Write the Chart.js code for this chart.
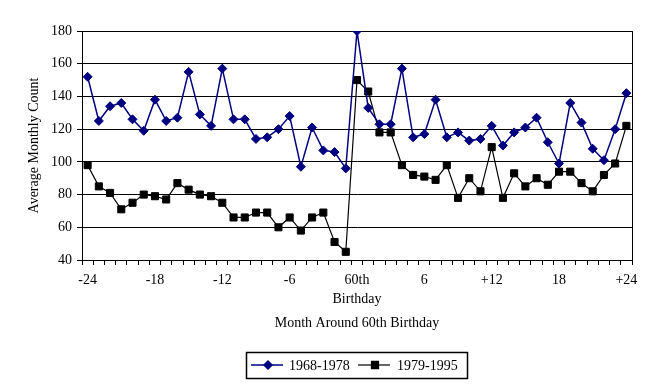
<!DOCTYPE html>
<html>
<head>
<meta charset="utf-8">
<script src="https://cdn.jsdelivr.net/npm/chart.js@4"></script>
<style>
  html, body { margin: 0; padding: 0; background: #fff; }
  #wrap { width: 650px; height: 390px; position: relative; }
</style>
</head>
<body>
<div id="wrap"><canvas id="chart" width="650" height="390"></canvas></div>
<script>
// Months around the 60th birthday
const months = [-24, -23, -22, -21, -20, -19, -18, -17, -16, -15, -14, -13, -12,
    -11, -10, -9, -8, -7, -6, -5, -4, -3, -2, -1, 0,
    1, 2, 3, 4, 5, 6, 7, 8, 9, 10, 11, 12,
    13, 14, 15, 16, 17, 18, 19, 20, 21, 22, 23, 24];

const counts6878 = [152, 125, 134, 136, 126, 119, 138, 125, 127, 155, 129, 122, 157,
    126, 126, 114, 115, 120, 128, 97, 121, 107, 106, 96, 180,
    133, 123, 123, 157, 115, 117, 138, 115, 118, 113, 114, 122,
    110, 118, 121, 127, 112, 99, 136, 124, 108, 101, 120, 142];

const counts7995 = [98, 85, 81, 71, 75, 80, 79, 77, 87, 83, 80, 79, 75,
    66, 66, 69, 69, 60, 66, 58, 66, 69, 51, 45, 150,
    143, 118, 118, 98, 92, 91, 89, 98, 78, 90, 82, 109,
    78, 93, 85, 90, 86, 94, 94, 87, 82, 92, 99, 122];

const tickMonths = [-24, -18, -12, -6, 0, 6, 12, 18, 24];
const tickText = ['-24', '-18', '-12', '-6', ['60th', 'Birthday'], '6', '+12', '18', '+24'];

const seriesNames = ['1968-1978', '1979-1995'];
const seriesColors = ['#000080', '#000000'];

const serif = '"Liberation Serif", "Times New Roman", serif';

// Plot frame on the right side (Excel style)
const frame = {
    id: 'frame',
    beforeDatasetsDraw(chart) {
        const { ctx, chartArea: a } = chart;
        ctx.save();
        ctx.strokeStyle = '#000';
        ctx.lineWidth = 1;
        ctx.beginPath();
        ctx.moveTo(Math.round(a.right) + 0.5, a.top);
        ctx.lineTo(Math.round(a.right) + 0.5, a.bottom);
        ctx.stroke();
        ctx.restore();
    }
};

// Boxed legend under the axis title
const boxLegend = {
    id: 'boxLegend',
    afterDraw(chart) {
        const ctx = chart.ctx;
        const x0 = 246, y0 = 352, w = 221, h = 26;
        const cy = y0 + h / 2;
        ctx.save();
        ctx.strokeStyle = '#000';
        ctx.lineWidth = 1.5;
        ctx.strokeRect(x0 + 0.5, y0 + 0.5, w, h);
        ctx.font = '14px ' + serif;
        ctx.textBaseline = 'middle';
        ctx.fillStyle = '#000';

        const items = [
            { lx: 251, tx: 289, style: 'rectRot', r: 4, lw: 1.5 },
            { lx: 358, tx: 397, style: 'rect', r: 5, lw: 1.2 }
        ];
        items.forEach((it, i) => {
            ctx.strokeStyle = seriesColors[i];
            ctx.lineWidth = it.lw;
            ctx.beginPath();
            ctx.moveTo(it.lx, cy);
            ctx.lineTo(it.lx + 32, cy);
            ctx.stroke();
            ctx.fillStyle = seriesColors[i];
            Chart.helpers.drawPoint(ctx, { pointStyle: it.style, radius: it.r, borderWidth: 1 }, it.lx + 17, cy);
            ctx.fillStyle = '#000';
            ctx.fillText(seriesNames[i], it.tx, cy + 1);
        });
        ctx.restore();
    }
};

new Chart(document.getElementById('chart'), {
    type: 'line',
    data: {
        labels: months,
        datasets: [
            {
                label: seriesNames[0],
                data: counts6878,
                borderColor: seriesColors[0],
                backgroundColor: seriesColors[0],
                borderWidth: 1.5,
                pointStyle: 'rectRot',
                pointRadius: 4.5,
                pointBorderWidth: 1,
                tension: 0
            },
            {
                label: seriesNames[1],
                data: counts7995,
                borderColor: seriesColors[1],
                backgroundColor: seriesColors[1],
                borderWidth: 1.2,
                pointStyle: 'rect',
                pointRadius: 5,
                pointBorderWidth: 1,
                tension: 0
            }
        ]
    },
    options: {
        responsive: false,
        animation: false,
        layout: { padding: { left: 22, top: 31, right: 18, bottom: 54 } },
        plugins: {
            legend: { display: false },
            tooltip: { enabled: false }
        },
        scales: {
            x: {
                type: 'category',
                offset: true,
                afterFit(scale) { scale.height = 76; },
                grid: {
                    offset: true,
                    drawOnChartArea: false,
                    drawTicks: true,
                    tickLength: 5,
                    color: '#000'
                },
                border: { display: true, color: '#000', width: 1 },
                ticks: {
                    autoSkip: false,
                    maxRotation: 0,
                    padding: 6,
                    color: '#000',
                    font: { family: serif, size: 14, lineHeight: 1.35 },
                    callback(value, index) {
                        const k = tickMonths.indexOf(months[index]);
                        return k >= 0 ? tickText[k] : '';
                    }
                },
                title: {
                    display: true,
                    text: 'Month Around 60th Birthday',
                    color: '#000',
                    font: { family: serif, size: 14 },
                    padding: { top: 4, bottom: 4 }
                }
            },
            y: {
                min: 40,
                max: 180,
                afterFit(scale) { scale.width = 60; },
                grid: {
                    color: '#000',
                    lineWidth: 1,
                    tickLength: 5
                },
                border: { display: true, color: '#000', width: 1 },
                ticks: {
                    stepSize: 20,
                    padding: 5,
                    color: '#000',
                    font: { family: serif, size: 14 }
                },
                title: {
                    display: true,
                    text: 'Average Monthly Count',
                    color: '#000',
                    font: { family: serif, size: 14 },
                    padding: { top: 4, bottom: 4 }
                }
            }
        }
    },
    plugins: [frame, boxLegend]
});
</script>
</body>
</html>
